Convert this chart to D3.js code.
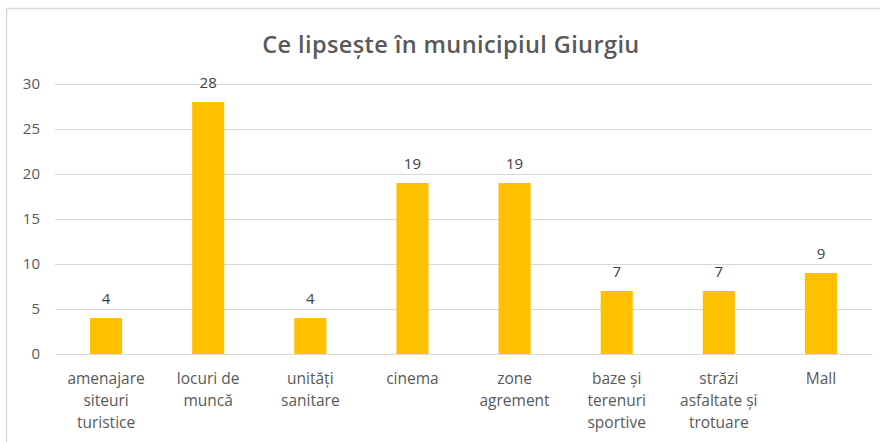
<!DOCTYPE html>
<html><head><meta charset="utf-8">
<script src="https://cdn.jsdelivr.net/npm/d3@7"></script>
<style>body{margin:0;background:#fff;} svg{display:block;}</style>
</head><body>
<svg id="c" width="880" height="442"></svg>
<script>
const categories = [
  ["amenajare","siteuri","turistice"],
  ["locuri de","muncă"],
  ["unități","sanitare"],
  ["cinema"],
  ["zone","agrement"],
  ["baze și","terenuri","sportive"],
  ["străzi","asfaltate și","trotuare"],
  ["Mall"]
];
const values = [4, 28, 4, 19, 19, 7, 7, 9];
const yTicks = [0, 5, 10, 15, 20, 25, 30];
const title = "Ce lipsește în municipiul Giurgiu";

const svg = d3.select("#c");
const font = "'Open Sans', 'Liberation Sans', sans-serif";
const txt = "#595959";

svg.append("rect").attr("x",6.5).attr("y",8.5).attr("width",880).attr("height",440)
  .attr("fill","#fff").attr("stroke","#d9d9d9").attr("stroke-width",1.5);

const m = {left:55, right:872, top:84, bottom:354};
const keys = categories.map((c,i)=>i);
const x = d3.scaleBand().domain(keys).range([m.left, m.right]).paddingInner(0.686).paddingOuter(0.343);
const y = d3.scaleLinear().domain([0,30]).range([m.bottom, m.top]);

svg.append("text").attr("x",451).attr("y",53).attr("text-anchor","middle")
  .attr("font-family",font).attr("font-size",23.5).attr("font-weight",600).attr("fill",txt)
  .attr("letter-spacing","0.4").text(title);

const yAxis = d3.axisLeft(y).tickValues(yTicks).tickSize(-(m.right-m.left)).tickPadding(15);
const ga = svg.append("g").attr("transform",`translate(${m.left},0)`).call(yAxis);
ga.select(".domain").remove();
ga.selectAll(".tick line").attr("stroke","#d9d9d9").attr("stroke-width",1);
ga.selectAll(".tick text").attr("font-family",font).attr("font-size",15).attr("fill",txt);

svg.selectAll("rect.bar").data(values).join("rect").attr("class","bar")
  .attr("x",(d,i)=>x(i)).attr("width",x.bandwidth())
  .attr("y",d=>y(d)).attr("height",d=>y(0)-y(d)).attr("fill","#ffc000");

svg.selectAll("text.val").data(values).join("text").attr("class","val")
  .attr("x",(d,i)=>x(i)+x.bandwidth()/2).attr("y",d=>y(d)-14)
  .attr("text-anchor","middle").attr("font-family",font).attr("font-size",15).attr("fill","#404040")
  .text(d=>d);

const xAxis = d3.axisBottom(x).tickSize(0).tickFormat("");
const gx = svg.append("g").attr("transform",`translate(0,${m.bottom})`).call(xAxis);
gx.select(".domain").attr("stroke","#d9d9d9");
categories.forEach((lines,i)=>{
  const t = svg.append("text").attr("x",x(i)+x.bandwidth()/2).attr("y",384)
    .attr("text-anchor","middle").attr("font-family",font).attr("font-size",15.5).attr("fill",txt);
  lines.forEach((l,j)=>t.append("tspan").attr("x",x(i)+x.bandwidth()/2).attr("dy",j?22:0).text(l));
});
</script>
</body></html>
